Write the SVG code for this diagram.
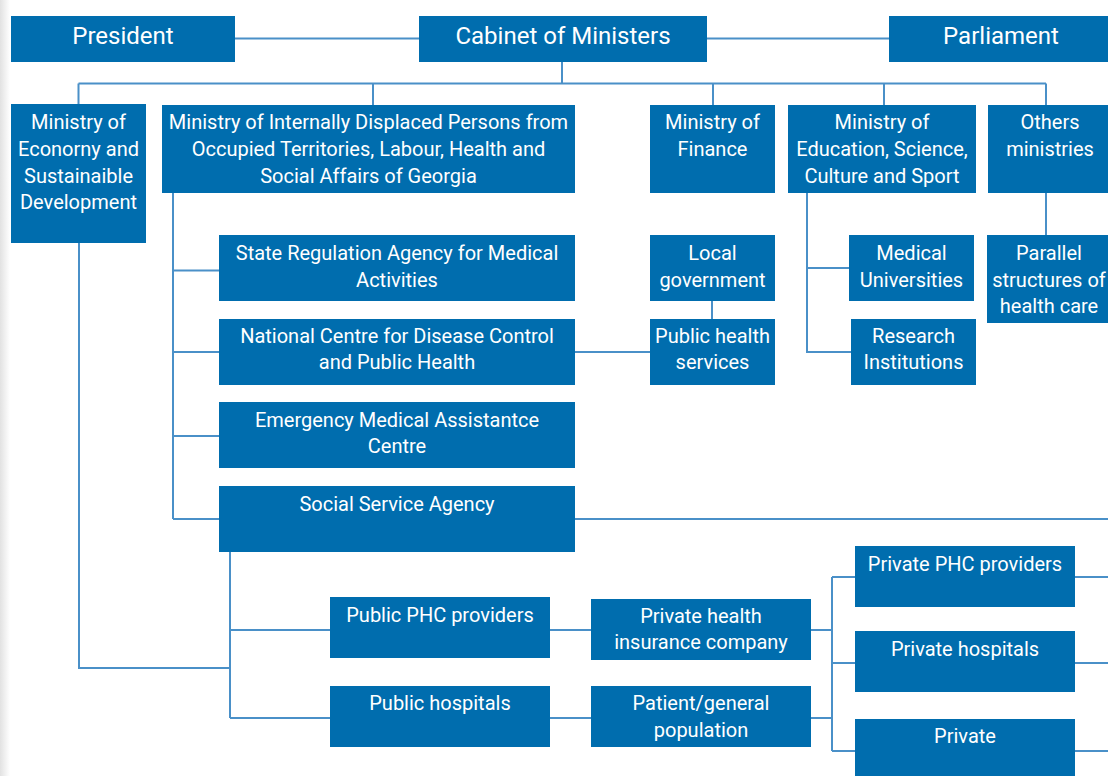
<svg xmlns="http://www.w3.org/2000/svg" width="1108" height="776" viewBox="0 0 1108 776">
<defs>
<linearGradient id="edge" x1="0" y1="0" x2="1" y2="0">
<stop offset="0" stop-color="#e2e2e2"/>
<stop offset="1" stop-color="#ffffff"/>
</linearGradient>
</defs>
<style>
.box{fill:#006DAE}
.t{fill:#ffffff;font-family:Roboto,"Liberation Sans",sans-serif;font-size:20px;text-anchor:middle}
.tt{fill:#ffffff;font-family:Roboto,"Liberation Sans",sans-serif;font-size:24px;text-anchor:middle}
.c{fill:none;stroke:#4A90C8;stroke-width:2}
</style>
<rect x="0" y="0" width="1108" height="776" fill="#ffffff"/>
<rect x="0" y="0" width="10" height="776" fill="url(#edge)"/>
<g id="connectors">
<path class="c" d="M235 38.5H419M707 38.5H889"/>
<path class="c" d="M562 62V83.5M78.5 83.5H1046M78.5 83.5V105M373 83.5V105M713 83.5V105M884 83.5V105M1046 83.5V105"/>
<path class="c" d="M1046 193V235"/>
<path class="c" d="M173 193V519M173 270.5H219M173 352H219M173 436H219M173 519H219"/>
<path class="c" d="M575 352H650M712 301V319"/>
<path class="c" d="M807 193V352H851M807 268H849"/>
<path class="c" d="M575 519H1108"/>
<path class="c" d="M79 243V668H230M230 552V718M230 630H330M230 718H330"/>
<path class="c" d="M550 630H591M550 718H591"/>
<path class="c" d="M811 630H832M811 718H832M832 577V751M832 577H855M832 663H855M832 751H855"/>
<path class="c" d="M1075 577H1108M1075 663H1108M1075 751H1108"/>
</g>
<g id="president"><rect class="box" x="11" y="16" width="224" height="46"/><text class="tt" x="123" y="43.5">President</text></g>
<g id="cabinet"><rect class="box" x="419" y="16" width="288" height="46"/><text class="tt" x="563" y="43.5">Cabinet of Ministers</text></g>
<g id="parliament"><rect class="box" x="889" y="16" width="225" height="46"/><text class="tt" x="1001" y="43.5">Parliament</text></g>
<g id="economy"><rect class="box" x="11" y="104" width="135" height="139"/><text class="t" x="78.5" y="129">Ministry of</text><text class="t" x="78.5" y="156">Econorny and</text><text class="t" x="78.5" y="183">Sustainaible</text><text class="t" x="78.5" y="209">Development</text></g>
<g id="moidp"><rect class="box" x="162" y="105" width="413" height="88"/><text class="t" x="368.5" y="129">Ministry of Internally Displaced Persons from</text><text class="t" x="368.5" y="156">Occupied Territories, Labour, Health and</text><text class="t" x="368.5" y="183">Social Affairs of Georgia</text></g>
<g id="finance"><rect class="box" x="650" y="105" width="125" height="88"/><text class="t" x="712.5" y="129">Ministry of</text><text class="t" x="712.5" y="156">Finance</text></g>
<g id="education"><rect class="box" x="788" y="105" width="188" height="88"/><text class="t" x="882" y="129">Ministry of</text><text class="t" x="882" y="156">Education, Science,</text><text class="t" x="882" y="183">Culture and Sport</text></g>
<g id="others"><rect class="box" x="988" y="105" width="125" height="88"/><text class="t" x="1050" y="129">Others</text><text class="t" x="1050" y="156">ministries</text></g>
<g id="stateReg"><rect class="box" x="219" y="235" width="356" height="66"/><text class="t" x="397" y="260">State Regulation Agency for Medical</text><text class="t" x="397" y="287">Activities</text></g>
<g id="ncdc"><rect class="box" x="219" y="319" width="356" height="66"/><text class="t" x="397" y="343">National Centre for Disease Control</text><text class="t" x="397" y="369">and Public Health</text></g>
<g id="emergency"><rect class="box" x="219" y="402" width="356" height="66"/><text class="t" x="397" y="427">Emergency Medical Assistantce</text><text class="t" x="397" y="453">Centre</text></g>
<g id="social"><rect class="box" x="219" y="486" width="356" height="66"/><text class="t" x="397" y="511">Social Service Agency</text></g>
<g id="localGov"><rect class="box" x="650" y="235" width="125" height="66"/><text class="t" x="712.5" y="260">Local</text><text class="t" x="712.5" y="287">government</text></g>
<g id="publicHealth"><rect class="box" x="650" y="319" width="125" height="66"/><text class="t" x="712.5" y="343">Public health</text><text class="t" x="712.5" y="369">services</text></g>
<g id="medUni"><rect class="box" x="849" y="235" width="125" height="66"/><text class="t" x="911.5" y="260">Medical</text><text class="t" x="911.5" y="287">Universities</text></g>
<g id="research"><rect class="box" x="851" y="319" width="125" height="66"/><text class="t" x="913.5" y="343">Research</text><text class="t" x="913.5" y="369">Institutions</text></g>
<g id="parallel"><rect class="box" x="987" y="235" width="125" height="88"/><text class="t" x="1049" y="260">Parallel</text><text class="t" x="1049" y="287">structures of</text><text class="t" x="1049" y="313">health care</text></g>
<g id="publicPHC"><rect class="box" x="330" y="597" width="220" height="61"/><text class="t" x="440" y="622">Public PHC providers</text></g>
<g id="publicHosp"><rect class="box" x="330" y="686" width="220" height="61"/><text class="t" x="440" y="710">Public hospitals</text></g>
<g id="insurance"><rect class="box" x="591" y="599" width="220" height="61"/><text class="t" x="701" y="623">Private health</text><text class="t" x="701" y="649">insurance company</text></g>
<g id="patient"><rect class="box" x="591" y="686" width="220" height="61"/><text class="t" x="701" y="710">Patient/general</text><text class="t" x="701" y="737">population</text></g>
<g id="privatePHC"><rect class="box" x="855" y="546" width="220" height="61"/><text class="t" x="965" y="571">Private PHC providers</text></g>
<g id="privateHosp"><rect class="box" x="855" y="631" width="220" height="61"/><text class="t" x="965" y="656">Private hospitals</text></g>
<g id="private"><rect class="box" x="855" y="719" width="220" height="61"/><text class="t" x="965" y="743">Private</text></g>
</svg>
